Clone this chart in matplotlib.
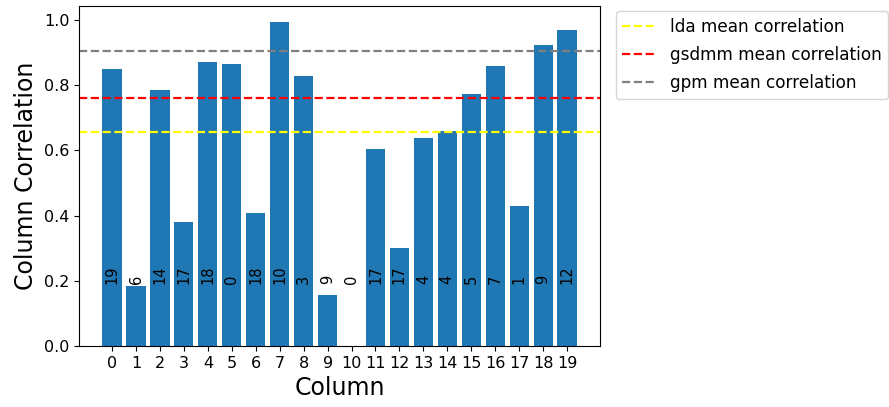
import matplotlib
matplotlib.use('Agg')
import matplotlib.pyplot as plt

columns = list(range(20))
correlation = [0.851, 0.184, 0.785, 0.379, 0.871, 0.865, 0.408, 0.993, 0.827, 0.155,
               0.0, 0.603, 0.302, 0.637, 0.659, 0.774, 0.860, 0.428, 0.922, 0.970]
bar_labels = [19, 6, 14, 17, 18, 0, 18, 10, 3, 9, 0, 17, 17, 4, 4, 5, 7, 1, 9, 12]

lda_mean = 0.656
gsdmm_mean = 0.761
gpm_mean = 0.904

fig = plt.figure(figsize=(8.89, 4.07), dpi=100)
ax = fig.add_subplot(111)
fig.subplots_adjust(left=0.0889, right=0.675, top=0.985, bottom=0.150)

ax.bar(columns, correlation, color='#1f77b4')
for x, lab in zip(columns, bar_labels):
    ax.text(x, 0.19, str(lab), rotation=90, ha='center', va='bottom', fontsize=10.5)

ax.axhline(lda_mean, color='yellow', linestyle='--', linewidth=1.6, label='lda mean correlation')
ax.axhline(gsdmm_mean, color='red', linestyle='--', linewidth=1.6, label='gsdmm mean correlation')
ax.axhline(gpm_mean, color='gray', linestyle='--', linewidth=1.6, label='gpm mean correlation')

ax.set_xticks(columns)
ax.set_xlim(-1.38, 20.38)
ax.tick_params(labelsize=11.5)
ax.set_xlabel('Column', fontsize=17)
ax.set_ylabel('Column Correlation', fontsize=17)
ax.legend(loc='upper left', bbox_to_anchor=(1.02, 1.0), borderaxespad=0.3,
          fontsize=12.2, labelspacing=0.6)

fig.savefig('out.png', dpi=100)
